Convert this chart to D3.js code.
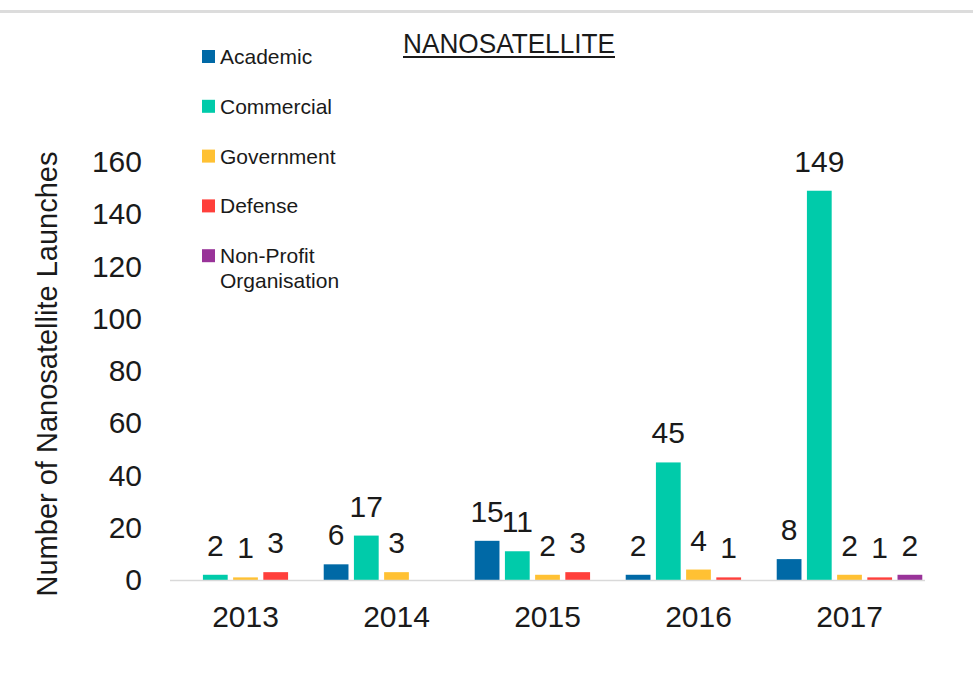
<!DOCTYPE html>
<html>
<head>
<meta charset="utf-8">
<script src="https://d3js.org/d3.v7.min.js"></script>
<style>
	body { margin: 0; background: #fff; }
	text { font-family: "Liberation Sans", Arial, sans-serif; fill: #1a1a1a; }
</style>
</head>
<body>
<script>
// data
var years = ["2013", "2014", "2015", "2016", "2017"];
var seriesNames = ["Academic", "Commercial", "Government", "Defense", "Non-Profit Organisation"];
var academic   = [0, 6, 15, 2, 8];
var commercial = [2, 17, 11, 45, 149];
var government = [1, 3, 2, 4, 2];
var defense    = [3, 0, 3, 1, 1];
var nonProfit  = [0, 0, 0, 0, 2];
var yTicks = [0, 20, 40, 60, 80, 100, 120, 140, 160];
var colors = ["#0069a6", "#00cbaa", "#ffc133", "#ff3f3b", "#993399"];

var seriesValues = [academic, commercial, government, defense, nonProfit];

var width = 973,
	height = 696;

var svg = d3.select("body")
	.append("svg")
	.attr("width", width)
	.attr("height", height);

svg.append("rect").attr("width", width).attr("height", height).attr("fill", "#fff");

// grey rule across the top
svg.append("line")
	.attr("x1", 0).attr("x2", width)
	.attr("y1", 11.5).attr("y2", 11.5)
	.attr("stroke", "#dcdcdc")
	.attr("stroke-width", 3);

var x0 = d3.scaleBand()
	.domain(years)
	.range([170, 925])
	.padding(0);

var x1 = d3.scaleBand()
	.domain(d3.range(seriesNames.length))
	.range([0, x0.bandwidth()])
	.paddingInner(0.18)
	.paddingOuter(0.09);

var y = d3.scaleLinear()
	.domain([0, 160])
	.range([580, 162]);

// y axis labels only
var yAxis = svg.append("g")
	.attr("transform", "translate(170,0)")
	.call(d3.axisLeft(y).tickValues(yTicks).tickSize(0).tickPadding(28));
yAxis.select(".domain").remove();
yAxis.selectAll("text")
	.style("font-family", "'Liberation Sans', Arial, sans-serif")
	.style("font-size", "30px")
	.attr("fill", "#1a1a1a");

var xAxis = svg.append("g")
	.attr("transform", "translate(0,580)")
	.call(d3.axisBottom(x0).tickSize(0).tickPadding(26));
xAxis.select(".domain").remove();
xAxis.selectAll("text")
	.style("font-family", "'Liberation Sans', Arial, sans-serif")
	.style("font-size", "30px")
	.attr("fill", "#1a1a1a");

var rows = [];
for (var i = 0; i < years.length; i++) {
	for (var s = 0; s < seriesNames.length; s++) {
		rows.push({year: years[i], s: s, value: seriesValues[s][i]});
	}
}

var bar = svg.selectAll("g.bar")
	.data(rows.filter(function(d) { return d.value > 0; }))
	.enter()
	.append("g")
	.attr("class", "bar")
	.attr("transform", function(d) {
		return "translate(" + (x0(d.year) + x1(d.s)) + ",0)";
	});

bar.append("rect")
	.attr("y", function(d) { return y(d.value); })
	.attr("width", x1.bandwidth())
	.attr("height", function(d) { return y(0) - y(d.value); })
	.attr("fill", function(d) { return colors[d.s]; });

bar.append("text")
	.attr("x", x1.bandwidth() / 2)
	.attr("y", function(d) { return y(d.value) - 19; })
	.attr("text-anchor", "middle")
	.style("font-size", "30px")
	.text(function(d) { return d.value; });

// baseline
svg.append("line")
	.attr("x1", 170).attr("x2", 925)
	.attr("y1", y(0) + 0.5).attr("y2", y(0) + 0.5)
	.attr("stroke", "#d9d9d9")
	.attr("stroke-width", 1.5);

// title
svg.append("text")
	.attr("x", 403)
	.attr("y", 53)
	.attr("textLength", 212)
	.attr("lengthAdjust", "spacingAndGlyphs")
	.style("font-size", "28px")
	.text("NANOSATELLITE");
svg.append("line")
	.attr("x1", 403).attr("x2", 615)
	.attr("y1", 57).attr("y2", 57)
	.attr("stroke", "#1a1a1a")
	.attr("stroke-width", 2);

// y axis title
svg.append("text")
	.attr("transform", "translate(57,374) rotate(-90)")
	.attr("text-anchor", "middle")
	.style("font-size", "29px")
	.text("Number of Nanosatellite Launches");

// legend
var legend = svg.selectAll("g.legend")
	.data(seriesNames)
	.enter()
	.append("g")
	.attr("class", "legend")
	.attr("transform", function(d, i) { return "translate(202," + (64 + i * 49.8) + ")"; });

legend.append("rect")
	.attr("y", -14)
	.attr("width", 13)
	.attr("height", 13)
	.attr("fill", function(d, i) { return colors[i]; });

legend.append("text")
	.attr("x", 18)
	.style("font-size", "21px")
	.each(function(d) {
		var parts = d == "Non-Profit Organisation" ? ["Non-Profit", "Organisation"] : [d];
		var t = d3.select(this);
		parts.forEach(function(p, k) {
			t.append("tspan").attr("x", 18).attr("dy", k == 0 ? 0 : 25).text(p);
		});
	});
</script>
</body>
</html>
